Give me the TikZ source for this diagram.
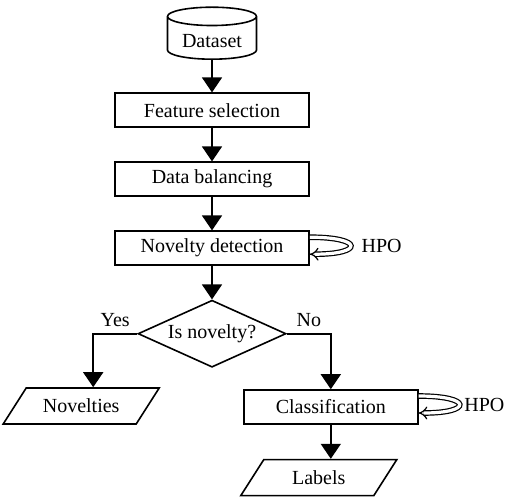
\documentclass[tikz,border=0pt]{standalone}
\usepackage{fontspec}
\setmainfont{Liberation Serif}
\usetikzlibrary{positioning,shapes.geometric,arrows.meta}

\begin{document}
\begin{tikzpicture}[node distance=16.7pt,
      box/.style={draw, thick, rectangle, minimum width=97pt, minimum height=17pt},
      io/.style={draw, thick, trapezium, trapezium left angle=50, trapezium right angle=130,
                 trapezium stretches body, minimum width=78pt, minimum height=18pt},
      db/.style={draw, thick, cylinder, shape border rotate=90, aspect=0.25,
                 minimum width=44.5pt, minimum height=26pt},
      dec/.style={draw, thick, diamond, aspect=2.2, inner sep=1pt,
                  minimum width=74pt, minimum height=33.5pt},
      flow/.style={thick, -{Triangle[width=10pt,length=7.5pt]}},
      hpo/.style={double, line width=0.6pt, double distance=1.6pt, -{Implies}}]
    \node[db] (data) at (0,0) {Dataset};
    \useasboundingbox ([shift={(-106pt,30pt)}]data.south) rectangle ++(253pt,-248pt);
    \node[box, below=16.2pt of data] (feat) {Feature selection};
    \node[box, below=of feat] (bal) {Data balancing};
    \node[box, below=of bal] (nov) {Novelty detection};
    \node[dec, below=of nov] (isnov) {Is novelty?};
    \node[io, below left=26.75pt and 22pt of isnov.west, anchor=top side] (novs) {Novelties};
    \node[box, minimum width=87pt, below right=27.75pt and 22pt of isnov.east, anchor=north] (cls) {Classification};
    \node[io, below=17pt of cls.south, anchor=top side] (lab) {Labels};
    % flow
    \draw[flow] (data) -- (feat);
    \draw[flow] (feat) -- (bal);
    \draw[flow] (bal) -- (nov);
    \draw[flow] (nov) -- (isnov);
    \draw[flow] (isnov.west) -| node[above, pos=0.25] (yes) {Yes} (novs.top side);
    \draw[flow] (isnov.east) -| node[above, pos=0.25] (no) {No} (cls);
    \draw[flow] (cls) -- (lab.top side);
    % tuning loops
    \draw[hpo] ([yshift=5.5pt]nov.east) .. controls +(27pt,0) and +(27pt,0) .. ([yshift=-3pt]nov.east)
        node[pos=0.5, right=2pt] (hpo1) {HPO};
    \draw[hpo] ([yshift=5.5pt]cls.east) .. controls +(27pt,0) and +(27pt,0) .. ([yshift=-3pt]cls.east)
        node[pos=0.5, right=-1pt] (hpo2) {HPO};
\end{tikzpicture}
\end{document}
